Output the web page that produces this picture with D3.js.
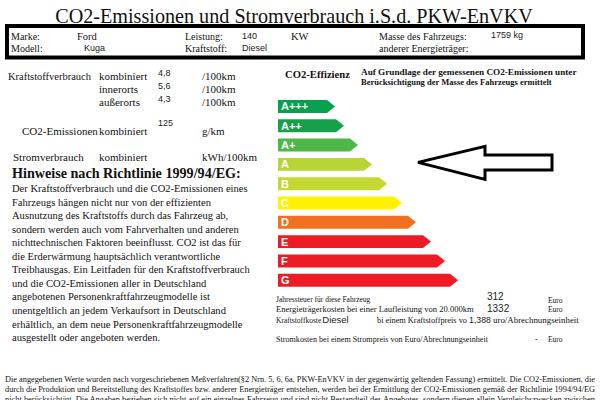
<!DOCTYPE html>
<html>
<head>
<meta charset="utf-8">
<script src="https://cdn.jsdelivr.net/npm/d3@7"></script>
<style>
  body { margin: 0; background: #fff; }
  svg { display: block; }
  .serif { font-family: "Liberation Serif", "Times New Roman", serif; fill: #111; }
  .sans { font-family: "Liberation Sans", Arial, sans-serif; fill: #222; }
</style>
</head>
<body>
<div id="label"></div>
<script>
// efficiency classes and bar lengths (px-like units)
const classes = ["A+++", "A++", "A+", "A", "B", "C", "D", "E", "F", "G"];
const barLength = [57, 66, 80, 94, 109, 124, 138, 153, 167, 180];
const classColors = ["#07a04c", "#16a04b", "#4db748", "#b8d436", "#c3d830", "#fff200", "#f37021", "#ed1c24", "#ed1c24", "#ed1c24"];
const vehicleClass = "A";

// vehicle data
const vehicle = ["Ford", "Kuga", "140", "Diesel", "1759 kg"];
const consumption = ["4,8", "5,6", "4,3"];
const consumptionLabels = ["kombiniert", "innerorts", "außerorts"];
const co2Value = "125";
const costValues = ["312", "1332", "1,388"];

const hinweise = [
  "Der Kraftstoffverbrauch und die CO2-Emissionen eines",
  "Fahrzeugs hängen nicht nur von der effizienten",
  "Ausnutzung des Kraftstoffs durch das Fahrzeug ab,",
  "sondern werden auch vom Fahrverhalten und anderen",
  "nichttechnischen Faktoren beeinflusst. CO2 ist das für",
  "die Erderwärmung hauptsächlich verantwortliche",
  "Treibhausgas. Ein Leitfaden für den Kraftstoffverbrauch",
  "und die CO2-Emissionen aller in Deutschland",
  "angebotenen Personenkraftfahrzeugmodelle ist",
  "unentgeltlich an jedem Verkaufsort in Deutschland",
  "erhältlich, an dem neue Personenkraftfahrzeugmodelle",
  "ausgestellt oder angeboten werden."
];

const footer = [
  "Die angegebenen Werte wurden nach vorgeschriebenen Meßverfahren(§2 Nrn. 5, 6, 6a, PKW-EnVKV in der gegenwärtig geltenden Fassung) ermittelt. Die CO2-Emissionen, die",
  "durch die Produktion und Bereitstellung des Kraftstoffes bzw. anderer Energieträger entstehen, werden bei der Ermittlung der CO2-Emissionen gemäß der Richtlinie 1994/94/EG",
  "nicht berücksichtigt. Die Angaben beziehen sich nicht auf ein einzelnes Fahrzeug und sind nicht Bestandteil des Angebotes, sondern dienen allein Vergleichszwecken zwischen"
];

const width = 600, height = 400;

const svg = d3.select("#label").append("svg")
    .attr("width", width)
    .attr("height", height);

// helper: put a text and optionally scale its font so it spans a given width
function txt(x, y, s, cls, size, opts = {}) {
  const t = svg.append("text")
      .attr("class", cls)
      .attr("x", x)
      .attr("y", y)
      .style("font-size", size + "px")
      .text(s);
  if (opts.bold) t.style("font-weight", "bold");
  if (opts.anchor) t.attr("text-anchor", opts.anchor);
  if (opts.fit) {
    const w = t.node().getComputedTextLength();
    t.style("font-size", (size * opts.fit / w) + "px");
  }
  if (opts.justify) t.attr("textLength", opts.justify).attr("lengthAdjust", "spacingAndGlyphs");
  return t;
}

// title
txt(294, 23, "CO2-Emissionen und Stromverbrauch i.S.d. PKW-EnVKV", "serif", 21, {anchor: "middle", fit: 478});

// header box
svg.append("rect")
    .attr("x", 7).attr("y", 26)
    .attr("width", 576).attr("height", 31.5)
    .attr("fill", "none")
    .attr("stroke", "#000")
    .attr("stroke-width", 4);

txt(11, 40, "Marke:", "serif", 10);
txt(11, 52, "Modell:", "serif", 10);
txt(77, 40, vehicle[0], "serif", 10.5);
txt(84, 51, vehicle[1], "sans", 9);
txt(185, 40, "Leistung:", "serif", 10);
txt(185, 52, "Kraftstoff:", "serif", 10);
txt(242, 39, vehicle[2], "sans", 9);
txt(242, 51, vehicle[3], "sans", 9);
txt(291, 40, "KW", "serif", 10.5);
txt(379, 40, "Masse des Fahrzeugs:", "serif", 10);
txt(379, 52, "anderer Energieträger:", "serif", 10);
txt(491, 38, vehicle[4], "sans", 9);

// consumption block
txt(8, 80, "Kraftstoffverbrauch", "serif", 11, {fit: 83});
consumptionLabels.forEach((l, i) => {
  txt(99, 80 + i * 13, l, "serif", 11);
  txt(158, 76 + i * 13, consumption[i], "sans", 9);
  txt(202, 80 + i * 13, "/100km", "serif", 11);
});
txt(22, 135, "CO2-Emissionen", "serif", 11);
txt(99, 135, "kombiniert", "serif", 11);
txt(158, 126, co2Value, "sans", 9);
txt(202, 135, "g/km", "serif", 11);
txt(13, 161, "Stromverbrauch", "serif", 11);
txt(99, 161, "kombiniert", "serif", 11);
txt(202, 161, "kWh/100km", "serif", 11);

// Hinweise
txt(12, 178, "Hinweise nach Richtlinie 1999/94/EG:", "serif", 14, {bold: true, fit: 229});
hinweise.forEach((l, i) => {
  const t = txt(12, 192 + i * 13.55, l, "serif", 12);
  if (i === 0) {
    const w = t.node().getComputedTextLength();
    hinweise.fontSize = 12 * 236 / w;
  }
  t.style("font-size", hinweise.fontSize + "px");
});

// efficiency header
txt(285, 78, "CO2-Effizienz", "serif", 11, {bold: true, fit: 65});
txt(361, 75, "Auf Grundlage der gemessenen CO2-Emissionen unter", "serif", 8, {bold: true, fit: 216});
txt(361, 85, "Berücksichtigung der Masse des Fahrzeugs ermittelt", "serif", 8, {bold: true, fit: 191});

// efficiency bars
const y = d3.scaleBand()
    .domain(classes)
    .range([100, 286.7])
    .paddingInner(0.33);
const x = d3.scaleLinear()
    .domain([0, 180])
    .range([278, 458]);

const tip = 8;
const bars = svg.append("g").selectAll("g")
    .data(classes)
  .enter().append("g");

bars.append("path")
    .attr("d", (d, i) => {
      const y0 = y(d), y1 = y(d) + y.bandwidth(), ym = (y0 + y1) / 2;
      const x0 = x(0), xe = x(barLength[i]);
      return `M${x0},${y0}H${xe - tip}L${xe},${ym}L${xe - tip},${y1}H${x0}Z`;
    })
    .attr("fill", (d, i) => classColors[i]);

bars.append("text")
    .attr("class", "sans")
    .attr("x", x(0) + 3)
    .attr("y", d => y(d) + y.bandwidth() / 2)
    .attr("dy", "0.36em")
    .style("font-size", "11px")
    .style("font-weight", "bold")
    .style("fill", "#fff")
    .text(d => d);

// arrow pointing at the vehicle class
const ay = y(vehicleClass) + y.bandwidth() / 2 - 2;
const ax = x(barLength[classes.indexOf(vehicleClass)]) + 46;
svg.append("path")
    .attr("d", `M${ax},${ay}L${ax + 67},${ay - 16}V${ay - 7.5}H${ax + 134}V${ay + 7.5}H${ax + 67}V${ay + 17}Z`)
    .attr("fill", "#fff")
    .attr("stroke", "#000")
    .attr("stroke-width", 3)
    .attr("stroke-linejoin", "miter");

// costs
txt(276, 302, "Jahressteuer für diese Fahrzeug", "serif", 7.5);
txt(487, 300, costValues[0], "sans", 10);
txt(548, 303, "Euro", "serif", 7.5);
txt(276, 311.5, "Energieträgerkosten bei einer Laufleistung von 20.000km", "serif", 7.5, {fit: 198});
txt(487, 311.5, costValues[1], "sans", 10);
txt(548, 312, "Euro", "serif", 7.5);
const kk = txt(276, 322.5, "Kraftstoffkoste", "serif", 7.5);
txt(276 + kk.node().getComputedTextLength() + 1, 322.5, vehicle[3], "sans", 9.5);
txt(377, 322.5, "bi einem Kraftstoffpreis vo", "serif", 7.5, {fit: 90});
txt(469, 322.5, costValues[2], "sans", 10, {fit: 22});
txt(493, 322.5, "uro/Abrechnungseinheit", "serif", 7.5, {fit: 86});
txt(276, 342, "Stromkosten bei einem Strompreis von Euro/Abrechnungseinheit", "serif", 7.5, {fit: 212});
txt(535, 342, "-", "serif", 8);
txt(548, 342, "Euro", "serif", 7.5);

// footer text
footer.forEach((l, i) => {
  txt(5, 382 + i * 10, l, "serif", 7.2, {justify: 590});
});
</script>
</body>
</html>
